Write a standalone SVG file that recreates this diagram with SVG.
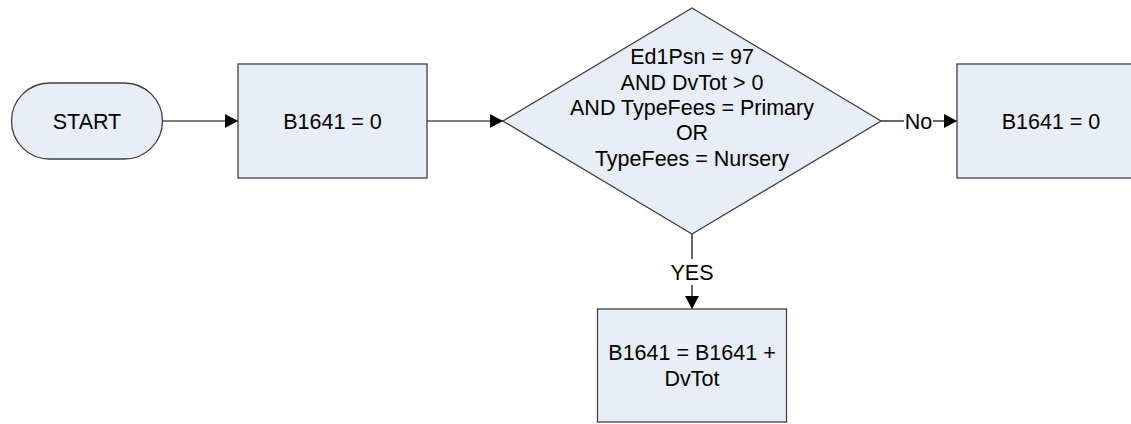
<svg xmlns="http://www.w3.org/2000/svg" width="1131" height="424" viewBox="0 0 1131 424">
<style>
.shape{fill:#E8EEF8;stroke:#404040;stroke-width:1.3}
.t{font-family:"Liberation Sans",Arial,sans-serif;font-size:21.5px;fill:#000;text-anchor:middle}
.c{stroke:#000;stroke-width:1.2;fill:none}
</style>
<defs>
<marker id="ah" markerWidth="14" markerHeight="14" viewBox="0 0 14 14" refX="13" refY="7" orient="auto" markerUnits="userSpaceOnUse">
<path d="M0,0 L13,7 L0,14 z" fill="#000"/>
</marker>
</defs>
<rect width="1131" height="424" fill="#fff"/>
<g id="connectors">
<line class="c" x1="162" y1="121" x2="238" y2="121" marker-end="url(#ah)"/>
<line class="c" x1="427" y1="121" x2="503" y2="121" marker-end="url(#ah)"/>
<line class="c" x1="881" y1="121" x2="904" y2="121"/>
<line class="c" x1="933" y1="121" x2="957" y2="121" marker-end="url(#ah)"/>
<text class="t" x="918.5" y="128.5">No</text>
<line class="c" x1="692" y1="234" x2="692" y2="259"/>
<text class="t" x="692" y="280">YES</text>
<line class="c" x1="692" y1="285" x2="692" y2="309" marker-end="url(#ah)"/>
</g>
<g id="start">
<rect class="shape" x="11.5" y="83" width="151" height="76" rx="38" ry="38"/>
<text class="t" x="87" y="128.5">START</text>
</g>
<g id="init">
<rect class="shape" x="238" y="64" width="189" height="114"/>
<text class="t" x="332.5" y="128.5">B1641 = 0</text>
</g>
<g id="decision">
<polygon class="shape" points="692,8 881,121 692,234 503,121"/>
<text class="t" x="692" y="64">Ed1Psn = 97</text>
<text class="t" x="692" y="89.5">AND DvTot &gt; 0</text>
<text class="t" x="692" y="114.5">AND TypeFees = Primary</text>
<text class="t" x="692" y="139.5">OR</text>
<text class="t" x="692" y="165.5">TypeFees = Nursery</text>
</g>
<g id="no_box">
<rect class="shape" x="957" y="64" width="189" height="114"/>
<text class="t" x="1051" y="128.5">B1641 = 0</text>
</g>
<g id="yes_box">
<rect class="shape" x="597.5" y="309" width="189" height="113"/>
<text class="t" x="692" y="360">B1641 = B1641 +</text>
<text class="t" x="692" y="386">DvTot</text>
</g>
</svg>
